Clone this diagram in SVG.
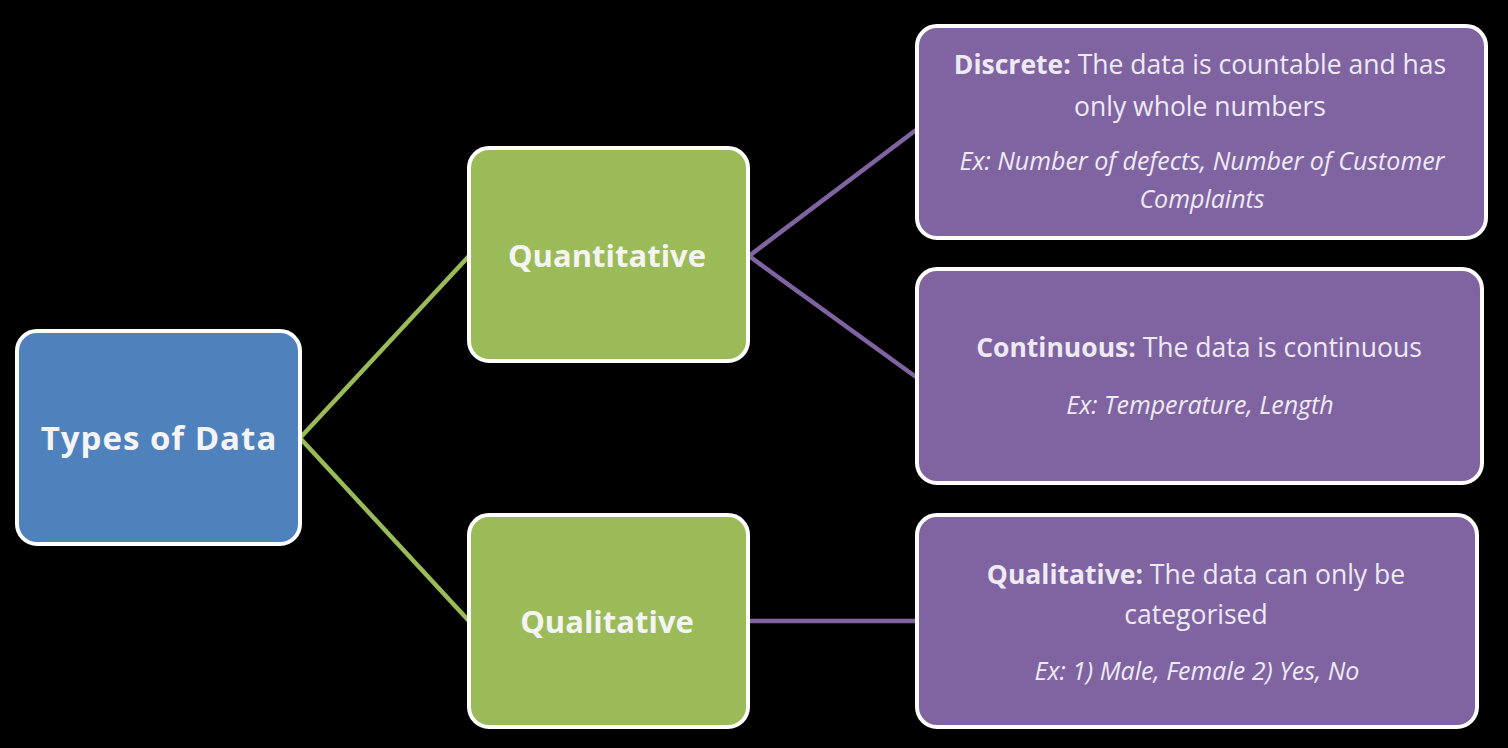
<svg xmlns="http://www.w3.org/2000/svg" width="1508" height="748" viewBox="0 0 1508 748">
<style>
.box{stroke:#ffffff;stroke-width:4}
.blue{fill:#4f81bd}
.green{fill:#9bbb59}
.purple{fill:#8064a2}
.ttl{font-family:"Open Sans","Liberation Sans",sans-serif;font-weight:bold;font-size:31px;fill:#f4f4f4;text-anchor:middle}
.big{font-size:33px;letter-spacing:1px}
.txt{font-family:"Open Sans","Liberation Sans",sans-serif;font-size:26.5px;fill:#eeeaf2;text-anchor:middle}
.b{font-weight:bold}
.it{font-style:italic;font-size:25px}
.cg{stroke:#9bbb59;stroke-width:4.5;fill:none}
.cp{stroke:#8064a2;stroke-width:4.5;fill:none}
</style>
<rect x="0" y="0" width="1508" height="748" fill="#000000"/>
<g id="connectors">
<line class="cg" x1="300" y1="438" x2="469" y2="256"/>
<line class="cg" x1="300" y1="438" x2="469" y2="621"/>
<line class="cp" x1="749" y1="256" x2="916" y2="130"/>
<line class="cp" x1="749" y1="256" x2="916" y2="377"/>
<line class="cp" x1="749" y1="621" x2="916" y2="621"/>
</g>
<g id="types">
<rect class="box blue" x="17" y="331" width="283" height="213" rx="20"/>
<text class="ttl big" x="159" y="450">Types of Data</text>
</g>
<g id="quantitative">
<rect class="box green" x="469" y="148" width="279" height="213" rx="20"/>
<text class="ttl" x="607" y="267">Quantitative</text>
</g>
<g id="qualitative">
<rect class="box green" x="469" y="515" width="279" height="212" rx="20"/>
<text class="ttl" x="607" y="633">Qualitative</text>
</g>
<g id="discrete">
<rect class="box purple" x="917" y="26" width="569" height="212" rx="20"/>
<text class="txt" x="1200" y="74"><tspan class="b">Discrete:</tspan> The data is countable and has</text>
<text class="txt" x="1200" y="116">only whole numbers</text>
<text class="txt it" x="1202" y="170">Ex: Number of defects, Number of Customer</text>
<text class="txt it" x="1202" y="208">Complaints</text>
</g>
<g id="continuous">
<rect class="box purple" x="917" y="269" width="565" height="214" rx="20"/>
<text class="txt" x="1199" y="357"><tspan class="b">Continuous:</tspan> The data is continuous</text>
<text class="txt it" x="1200" y="414">Ex: Temperature, Length</text>
</g>
<g id="qualitative-desc">
<rect class="box purple" x="917" y="515" width="560" height="212" rx="20"/>
<text class="txt" x="1196" y="584"><tspan class="b">Qualitative:</tspan> The data can only be</text>
<text class="txt" x="1196" y="624">categorised</text>
<text class="txt it" x="1197" y="680">Ex: 1) Male, Female 2) Yes, No</text>
</g>
</svg>
